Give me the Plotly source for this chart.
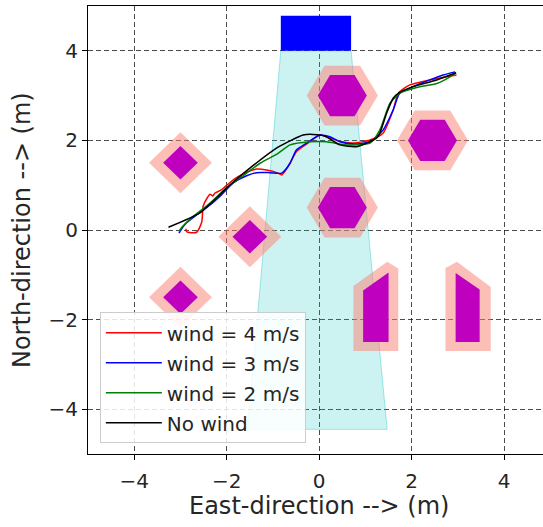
import numpy as np
import plotly.graph_objects as go

# ---------------- data ----------------
# trajectories (East, North) in m
red_x = [-2.88, -2.87, -2.65, -2.54, -2.51, -2.42, -2.36, -2.30, -2.26, -2.11, -1.86, -1.61, -1.35, -1.14, -0.89,
         -0.81, -0.67, -0.49, -0.27, 0.02, 0.23, 0.48, 0.74, 1.10, 1.38, 1.60, 1.71, 1.96, 2.39, 2.75, 2.97]
red_y = [0.03, -0.04, -0.05, 0.18, 0.53, 0.72, 0.80, 0.76, 0.82, 0.90, 1.12, 1.27, 1.36, 1.34, 1.27,
         1.23, 1.42, 1.75, 1.92, 2.12, 2.05, 1.97, 1.94, 2.01, 2.16, 2.68, 3.05, 3.24, 3.35, 3.42, 3.46]

blue_x = [-3.03, -3.01, -2.87, -2.65, -2.36, -2.11, -1.86, -1.57, -1.35, -1.07, -0.81, -0.63, -0.49, -0.27,
          0.02, 0.23, 0.45, 0.74, 1.10, 1.38, 1.60, 1.74, 2.03, 2.39, 2.68, 2.94]
blue_y = [-0.07, -0.03, 0.16, 0.34, 0.56, 0.79, 1.05, 1.21, 1.28, 1.28, 1.27, 1.49, 1.79, 1.94,
          2.12, 2.08, 1.97, 1.92, 1.97, 2.23, 2.68, 3.05, 3.20, 3.35, 3.46, 3.53]

green_x = [-3.03, -3.01, -2.73, -2.36, -2.00, -1.57, -1.28, -0.89, -0.63, -0.20, 0.16, 0.59, 1.10, 1.31,
           1.53, 1.74, 2.11, 2.54, 2.83, 2.96]
green_y = [-0.04, 0.01, 0.30, 0.60, 0.94, 1.27, 1.49, 1.71, 1.90, 1.97, 1.97, 1.90, 1.94, 2.23,
           2.83, 3.05, 3.18, 3.27, 3.42, 3.51]

black_x = [-3.26, -2.58, -2.00, -1.50, -0.89, -0.35, -0.20, 0.12, 0.45, 0.81, 1.24, 1.31, 1.46, 1.60,
           1.74, 2.03, 2.54, 2.96]
black_y = [0.06, 0.38, 0.94, 1.38, 1.85, 2.12, 2.14, 2.10, 1.90, 1.86, 2.05, 2.16, 2.61, 2.94,
           3.07, 3.20, 3.35, 3.51]

series_names = ["wind = 4 m/s", "wind = 3 m/s", "wind = 2 m/s", "No wind"]

# obstacles
diamond_cx = [-3.0, -1.5, -3.0]
diamond_cy = [1.5, -0.15, -1.5]
diamond_r_inner = 0.375
diamond_r_outer = 0.68

hex_cx = [0.5, 2.45, 0.5]
hex_cy = [3.0, 2.0, 0.5]
hex_r_inner = 0.53
hex_r_outer = 0.77

poly1_inner_x = [0.95, 1.50, 1.50, 0.95]
poly1_inner_y = [-2.50, -2.50, -0.95, -1.35]
poly1_outer_x = [0.74, 1.71, 1.71, 1.47, 0.74]
poly1_outer_y = [-2.70, -2.70, -0.86, -0.71, -1.25]
poly2_inner_x = [2.95, 3.47, 3.47, 2.95]
poly2_inner_y = [-2.50, -2.50, -1.33, -0.96]
poly2_outer_x = [2.73, 3.71, 3.71, 2.98, 2.73]
poly2_outer_y = [-2.70, -2.70, -1.27, -0.71, -0.85]

# sensor field of view (trapezoid) and source box
fov_x = [-0.83, 0.69, 1.47, -1.55]
fov_y = [4.0, 4.0, -4.45, -4.45]
box_x = [-0.83, 0.69, 0.69, -0.83]
box_y = [4.0, 4.0, 4.78, 4.78]

tick_vals = [-4, -2, 0, 2, 4]
x_title = "East-direction --> (m)"
y_title = "North-direction --> (m)"

# ---------------- figure ----------------
SALMON = "rgba(250,128,114,0.5)"
MAGENTA = "#bf00bf"
FONT = "DejaVu Sans"
TXT = "#262626"

fig = go.Figure()


def add_poly(xs, ys, color, lw=0, lc=None):
    fig.add_trace(go.Scatter(x=list(xs) + [xs[0]], y=list(ys) + [ys[0]], mode="lines",
                             fill="toself", fillcolor=color, line=dict(width=lw, color=lc or color),
                             hoverinfo="skip", showlegend=False))


def diamond(cx, cy, r):
    ang = np.deg2rad([0, 90, 180, 270])
    return cx + r * np.cos(ang), cy + r * np.sin(ang)


def hexagon(cx, cy, r):
    ang = np.deg2rad(np.arange(0, 360, 60))
    return cx + r * np.cos(ang), cy + r * np.sin(ang)


# field of view (below obstacles)
add_poly(fov_x, fov_y, "rgba(0,191,191,0.2)", lw=1, lc="rgba(0,191,191,0.35)")

for cx, cy in zip(diamond_cx, diamond_cy):
    add_poly(*diamond(cx, cy, diamond_r_outer), SALMON)
    add_poly(*diamond(cx, cy, diamond_r_inner), MAGENTA)
for cx, cy in zip(hex_cx, hex_cy):
    add_poly(*hexagon(cx, cy, hex_r_outer), SALMON)
    add_poly(*hexagon(cx, cy, hex_r_inner), MAGENTA)
add_poly(poly1_outer_x, poly1_outer_y, SALMON)
add_poly(poly1_inner_x, poly1_inner_y, MAGENTA)
add_poly(poly2_outer_x, poly2_outer_y, SALMON)
add_poly(poly2_inner_x, poly2_inner_y, MAGENTA)

add_poly(box_x, box_y, "#0000ff")

for i, (xs, ys, col, name) in enumerate([(red_x, red_y, "#ff0000", series_names[0]),
                                         (blue_x, blue_y, "#0000ff", series_names[1]),
                                         (green_x, green_y, "#008000", series_names[2]),
                                         (black_x, black_y, "#000000", series_names[3])]):
    fig.add_trace(go.Scatter(x=xs, y=ys, mode="lines", name=name, legendgroup=f"g{i}",
                             line=dict(color=col, width=1.5, shape="spline", smoothing=0.6)))

axis_common = dict(
    tickvals=tick_vals, ticks="outside", ticklen=5, tickwidth=1, tickcolor="black",
    showgrid=True, gridcolor="rgba(0,0,0,0.7)", griddash="5px,3px", gridwidth=1,
    zeroline=False, showline=True, linecolor="black", linewidth=1,
    tickfont=dict(family=FONT, size=20, color=TXT), automargin=False,
)

fig.update_layout(
    width=543, height=527,
    margin=dict(l=88, r=0, t=6, b=73),
    paper_bgcolor="white", plot_bgcolor="white",
    font=dict(family=FONT, color=TXT),
    xaxis=dict(range=[-5, 4.84], mirror=True, ticklabelstandoff=4, **axis_common),
    yaxis=dict(range=[-5, 5], mirror=False, **axis_common),
    legend=dict(x=0.026, y=0.024, xanchor="left", yanchor="bottom",
                bgcolor="rgba(255,255,255,0.85)", bordercolor="#cccccc", borderwidth=1,
                font=dict(family=FONT, size=20, color=TXT), tracegroupgap=1, itemwidth=56),
    showlegend=True,
    annotations=[
        dict(text=x_title, x=0, xref="x", y=-0.116, yref="paper", xanchor="center", yanchor="middle",
             showarrow=False, font=dict(family=FONT, size=24, color=TXT)),
        dict(text=y_title, x=-0.145, xref="paper", y=0, yref="y", xanchor="center", yanchor="middle",
             textangle=-90, showarrow=False, font=dict(family=FONT, size=24, color=TXT)),
    ],
)

fig.write_html("out.html", config={"displayModeBar": False},
               post_script="document.body.style.margin='0';")
